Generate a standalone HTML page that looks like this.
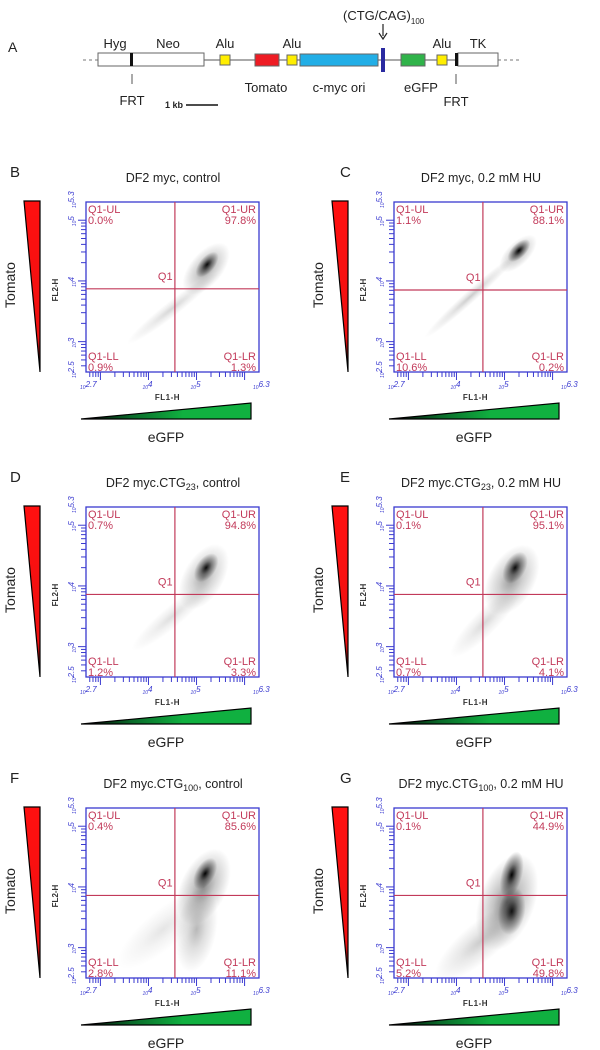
<!DOCTYPE html>
<html><head><meta charset="utf-8"><style>
html,body{margin:0;padding:0;background:#fff;}
svg{display:block;font-family:"Liberation Sans",sans-serif;}
</style></head><body>
<svg id="fig" width="600" height="1050" viewBox="0 0 600 1050" xmlns="http://www.w3.org/2000/svg">
<defs>
<radialGradient id="blob"><stop offset="0" stop-color="#000" stop-opacity="1"/><stop offset="0.45" stop-color="#000" stop-opacity="0.45"/><stop offset="1" stop-color="#000" stop-opacity="0"/></radialGradient>
<linearGradient id="redg" x1="0" y1="0" x2="0" y2="1"><stop offset="0" stop-color="#ff1010"/><stop offset="0.8" stop-color="#f01010"/><stop offset="1" stop-color="#000"/></linearGradient>
<linearGradient id="greeng" x1="0" y1="0" x2="1" y2="0"><stop offset="0" stop-color="#000"/><stop offset="0.3" stop-color="#0a6a2a"/><stop offset="0.6" stop-color="#10b040"/><stop offset="1" stop-color="#10b040"/></linearGradient>
</defs>
<g id="panelA" font-size="13" fill="#222">
<text x="8" y="52" font-size="14">A</text>
<line x1="83" y1="60" x2="98" y2="60" stroke="#777" stroke-dasharray="3,3"/>
<line x1="498" y1="60" x2="522" y2="60" stroke="#777" stroke-dasharray="3,3"/>
<line x1="98" y1="60" x2="498" y2="60" stroke="#777" stroke-width="1.2"/>
<rect x="98" y="53" width="106" height="13" fill="#fff" stroke="#666"/>
<rect x="130" y="53" width="3" height="13" fill="#111"/>
<rect x="220" y="55" width="10" height="10" fill="#ffee00" stroke="#666"/>
<rect x="255" y="54" width="24" height="12" fill="#ee1c24" stroke="#666"/>
<rect x="287" y="55" width="10" height="10" fill="#ffee00" stroke="#666"/>
<rect x="300" y="54" width="78" height="12" fill="#22aee6" stroke="#666"/>
<rect x="381" y="48" width="4" height="24" fill="#2a2aa0"/>
<rect x="401" y="54" width="24" height="12" fill="#30b34a" stroke="#666"/>
<rect x="437" y="55" width="10" height="10" fill="#ffee00" stroke="#666"/>
<rect x="458" y="53" width="40" height="13" fill="#fff" stroke="#666"/>
<rect x="455" y="53" width="3" height="13" fill="#111"/>
<line x1="132" y1="74" x2="132" y2="84" stroke="#555"/>
<line x1="456" y1="74" x2="456" y2="84" stroke="#555"/>
<text x="115" y="48" text-anchor="middle">Hyg</text>
<text x="168" y="48" text-anchor="middle">Neo</text>
<text x="225" y="48" text-anchor="middle">Alu</text>
<text x="292" y="48" text-anchor="middle">Alu</text>
<text x="442" y="48" text-anchor="middle">Alu</text>
<text x="478" y="48" text-anchor="middle">TK</text>
<text x="132" y="105" text-anchor="middle">FRT</text>
<text x="456" y="106" text-anchor="middle">FRT</text>
<text x="266" y="92" text-anchor="middle">Tomato</text>
<text x="339" y="92" text-anchor="middle">c-myc ori</text>
<text x="421" y="92" text-anchor="middle">eGFP</text>
<text x="165" y="108" font-size="9" font-weight="bold">1 kb</text>
<line x1="186" y1="105" x2="218" y2="105" stroke="#111" stroke-width="1.5"/>
<text x="343" y="20">(CTG/CAG)<tspan font-size="8" dy="4">100</tspan></text>
<line x1="383" y1="24" x2="383" y2="36" stroke="#222" stroke-width="1.2"/>
<path d="M379,33 L383,39 L387,33" fill="none" stroke="#222" stroke-width="1.2"/>
</g>
</svg>
<script>
const panelIds=['B','C','D','E','F','G'];
const panelTitles=['DF2 myc, control','DF2 myc, 0.2 mM HU','DF2 myc.CTG|23|, control','DF2 myc.CTG|23|, 0.2 mM HU','DF2 myc.CTG|100|, control','DF2 myc.CTG|100|, 0.2 mM HU'];
const qUL=[0.0,1.1,0.7,0.1,0.4,0.1];
const qUR=[97.8,88.1,94.8,95.1,85.6,44.9];
const qLL=[0.9,10.6,1.2,0.7,2.8,5.2];
const qLR=[1.3,0.2,3.3,4.1,11.1,49.8];
const gateX=[4.55,4.55,4.55,4.55,4.55,4.55];
const gateY=[3.87,3.85,3.86,3.86,3.86,3.86];
const xTickLabels=['2.7','4','5','6.3'];
const xTickVals=[2.7,4,5,6.3];
const yTickLabels=['2.5','3','4','5','5.3'];
const yTickVals=[2.5,3,4,5,5.3];
// density components: panel index, log x, log y, major/minor spread (decades), angle, density
const cPanel=[0,0,0, 1,1,1, 2,2,2, 3,3,3, 4,4,4,4, 5,5,5,5];
const cX=[5.22,5.2,4.5, 5.3,5.28,4.3, 5.2,5.15,4.5, 5.22,5.15,4.6, 5.18,5.15,5.0,4.3, 5.15,5.15,5.05,4.5];
const cY=[4.27,4.2,3.55, 4.5,4.45,3.75, 4.3,4.15,3.5, 4.3,4.1,3.4, 4.22,4.0,3.3,3.3, 4.2,3.6,3.75,3.1];
const cMaj=[0.32,0.65,1.2, 0.3,0.5,1.3, 0.34,0.75,1.1, 0.36,0.8,1.0, 0.36,0.85,0.9,1.2, 0.5,0.5,1.05,1.2];
const cMin=[0.16,0.34,0.16, 0.15,0.24,0.13, 0.2,0.42,0.22, 0.22,0.48,0.26, 0.2,0.48,0.42,0.4, 0.22,0.28,0.58,0.4];
const cAng=[-50,-50,-38, -45,-45,-42, -55,-60,-40, -60,-60,-45, -60,-65,-80,-40, -75,-80,-70,-40];
const cDen=[0.95,0.4,0.16, 1.0,0.35,0.2, 0.95,0.35,0.13, 0.95,0.4,0.15, 1.0,0.45,0.28,0.1, 1.0,0.9,0.5,0.2];

const NS='http://www.w3.org/2000/svg';
const svg=document.getElementById('fig');
function mk(tag,attrs,parent){const e=document.createElementNS(NS,tag);for(const k in attrs)e.setAttribute(k,attrs[k]);(parent||svg).appendChild(e);return e;}
const boxXs=[86,394], boxYs=[202,507,808], W=173, H=170;
const XMIN=2.7,XMAX=6.3,YMIN=2.5,YMAX=5.3;
const BLUE='#3a3ad0', RED='#c23a5a';

panelIds.forEach((pid,i)=>{
  const bx=boxXs[i%2], by=boxYs[Math.floor(i/2)];
  const sx=v=>bx+(v-XMIN)/(XMAX-XMIN)*W;
  const sy=v=>by+H-(v-YMIN)/(YMAX-YMIN)*H;
  const g=mk('g',{});
  
  
  const lt=mk('text',{x:bx-(i%2?54:76),y:by-25,'font-size':15,fill:'#222'},g);lt.textContent=pid;
  
  
  const tt=mk('text',{x:bx+87,y:by-20,'font-size':12.5,'text-anchor':'middle',fill:'#222'},g);
  
  
  panelTitles[i].split('|').forEach((s,k)=>{const ts=mk('tspan',k%2?{'font-size':9,dy:3}:(k>0?{dy:-3}:{}),tt);ts.textContent=s;});
  // red triangle
  const rt=mk('path',{d:`M${bx-62},${by-1} L${bx-46},${by-1} L${bx-46},${by+170} Z`,fill:'url(#redg)',stroke:'#000','stroke-width':1.2},g);
  
  
  const tm=mk('text',{x:0,y:0,'font-size':14,'text-anchor':'middle',fill:'#222',transform:`translate(${bx-71},${by+83}) rotate(-90)`},g);tm.textContent='Tomato';
  
  
  const gt=mk('path',{d:`M${bx-5},${by+217} L${bx+165},${by+201} L${bx+165},${by+217} Z`,fill:'url(#greeng)',stroke:'#000','stroke-width':1.2},g);
  
  
  const eg=mk('text',{x:bx+80,y:by+240,'font-size':14,'text-anchor':'middle',fill:'#222'},g);eg.textContent='eGFP';
  
  
  // clip + density
  const cp=mk('clipPath',{id:'clip'+pid},g);mk('rect',{x:bx,y:by,width:W,height:H},cp);
  const dg=mk('g',{'clip-path':`url(#clip${pid})`},g);
  const pxDec=W/(XMAX-XMIN);
  cPanel.forEach((p,j)=>{ if(p!==i)return;
    const cx=sx(cX[j]), cy=sy(cY[j]);
    const el=mk('ellipse',{cx:cx,cy:cy,rx:cMaj[j]*pxDec,ry:cMin[j]*pxDec,fill:'url(#blob)','fill-opacity':cDen[j],transform:`rotate(${cAng[j]} ${cx} ${cy})`},dg);
    
    
  });
  // box
  const bxr=mk('rect',{x:bx,y:by,width:W,height:H,fill:'none',stroke:BLUE,'stroke-width':1.3},g);
  
  
  // ticks
  for(let d=2;d<=6;d++)for(let k=1;k<10;k++){const v=d+Math.log10(k);
    if(v>=XMIN-1e-6&&v<=XMAX+1e-6){const x=sx(v);mk('line',{x1:x,y1:by+H,x2:x,y2:by+H+(k===1?8:5),stroke:BLUE,'stroke-width':1},g);}
    if(v>=YMIN-1e-6&&v<=YMAX+1e-6){const y=sy(v);mk('line',{x1:bx,y1:y,x2:bx-(k===1?8:5),y2:y,stroke:BLUE,'stroke-width':1},g);}
  }
  xTickVals.forEach((v,k)=>{const t=mk('text',{x:sx(v)-6,y:by+H+17,'font-size':8,'font-style':'italic',fill:BLUE},g);
    const a=mk('tspan',{'font-size':5},t);a.textContent='10';const b=mk('tspan',{dy:-2},t);b.textContent=xTickLabels[k];
    
    });
  yTickVals.forEach((v,k)=>{const t=mk('text',{x:0,y:0,'font-size':8,'font-style':'italic',fill:BLUE,transform:`translate(${bx-10},${sy(v)+6}) rotate(-90)`},g);
    const a=mk('tspan',{'font-size':5},t);a.textContent='10';const b=mk('tspan',{dy:-2},t);b.textContent=yTickLabels[k];
    
    });
  const xl=mk('text',{x:bx+W/2-5,y:by+H+28,'font-size':8,'text-anchor':'middle',fill:'#333','font-weight':'bold','letter-spacing':'0.5'},g);xl.textContent='FL1-H';
  
  
  const yl=mk('text',{x:0,y:0,'font-size':8,'text-anchor':'middle',fill:'#333','font-weight':'bold',transform:`translate(${bx-28},${by+H/2+3}) rotate(-90)`},g);yl.textContent='FL2-H';
  
  
  // gates
  const gx=sx(gateX[i]), gy=sy(gateY[i]);
  const vl=mk('line',{x1:gx,y1:by,x2:gx,y2:by+H,stroke:RED,'stroke-width':1.2},g);
  
  
  const hl=mk('line',{x1:bx,y1:gy,x2:bx+W,y2:gy,stroke:RED,'stroke-width':1.2},g);
  
  
  const q1=mk('text',{x:gx-17,y:gy-9,'font-size':11,fill:RED},g);q1.textContent='Q1';
  
  
  const quads=[['Q1-UL',qUL[i],bx+2,by+11,'start'],['Q1-UR',qUR[i],bx+W-3,by+11,'end'],['Q1-LL',qLL[i],bx+2,by+H-12,'start'],['Q1-LR',qLR[i],bx+W-3,by+H-12,'end']];
  quads.forEach(q=>{const t=mk('text',{x:q[2],y:q[3],'font-size':11,fill:RED,'text-anchor':q[4]},g);
    const a=mk('tspan',{x:q[2]},t);a.textContent=q[0];
    const b=mk('tspan',{x:q[2],dy:11},t);b.textContent=q[1].toFixed(1)+'%';
    
    });
});
</script>
</body></html>
